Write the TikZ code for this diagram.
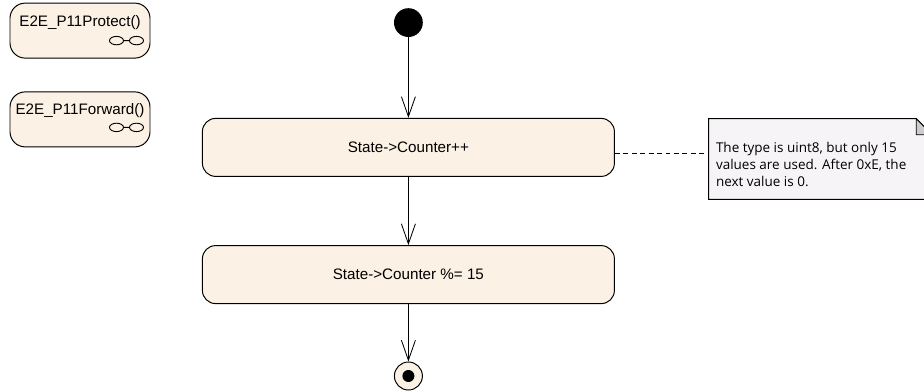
\documentclass[tikz,border=0pt]{standalone}
\usepackage{fontspec}
\setmainfont{Liberation Sans}
\newfontfamily\notefont{Open Sans}
\usepackage{xcolor}
\usetikzlibrary{positioning,arrows.meta,calc}
\definecolor{actfill}{RGB}{251,241,228}
\definecolor{notefill}{RGB}{247,244,247}
\definecolor{foldgray}{RGB}{204,204,208}
\newcommand{\callsym}[1]{%
  \draw[line width=0.65pt] ($(#1)+(-0.25,0)$) ellipse (0.175 and 0.105)
    ($(#1)+(0.25,0)$) ellipse (0.175 and 0.105)
    ($(#1)+(-0.075,0)$) -- ($(#1)+(0.075,0)$);}

\begin{document}
\begin{tikzpicture}[
  act/.style={draw, rounded corners=3.3mm, fill=actfill, line width=0.7pt,
              minimum width=10.3cm, minimum height=1.45cm,
              font=\fontsize{10.8}{13}\selectfont, inner sep=0pt},
  callact/.style={draw, rounded corners=3.8mm, fill=actfill, line width=0.7pt,
                  minimum width=3.5cm, minimum height=1.375cm, inner sep=0pt},
  callname/.style={font=\fontsize{10.8}{13}\selectfont, inner sep=0pt},
  flow/.style={-{Straight Barb[length=5mm, width=3.5mm]}, line width=0.6pt},
  notetxt/.style={font=\notefont\fontsize{9.6}{12}\selectfont, align=left,
                  anchor=north west, inner sep=0pt},
]
\useasboundingbox (0,0) rectangle (23.1,9.775);

% called activities
\node[callact] (protect) at (2.0,9.01) {};
\node[callname] (protectname) at ([yshift=-5mm]protect.north) {E2E\_P11Protect()};
\coordinate (protectsym) at ([xshift=-6mm,yshift=4.5mm]protect.south east);
\callsym{protectsym}
\node[callact] (forward) at (2.0,6.79) {};
\node[callname] (forwardname) at ([yshift=-4.8mm]forward.north) {E2E\_P11Forward()};
\coordinate (forwardsym) at ([xshift=-6mm,yshift=5mm]forward.south east);
\callsym{forwardsym}

% flow
\node[circle, fill=black, minimum size=7.2mm, inner sep=0pt] (start) at (10.21,9.21) {};
\node[act] (inc) at (10.21,6.09) {State->Counter++};
\node[act] (wrap) at (10.21,2.91) {State->Counter \%= 15};
\node[circle, draw, line width=0.7pt, fill=actfill, minimum size=7mm, inner sep=0pt] (final) at (10.21,0.375) {};
\node[circle, fill=black, minimum size=3mm, inner sep=0pt] (finaldot) at (final) {};
\draw[flow] (start) -- (inc);
\draw[flow] (inc) -- (wrap);
\draw[flow] (wrap) -- (final);

% note
\node[minimum width=5.575cm, minimum height=2cm, inner sep=0pt] (note) at (20.5125,5.8) {};
\draw[fill=notefill, line width=0.7pt] (note.south west) -- (note.north west)
  -- ([xshift=-4mm]note.north east) -- ([yshift=-4mm]note.north east)
  -- (note.south east) -- cycle;
\draw[fill=foldgray, line width=0.6pt] ([xshift=-4mm]note.north east)
  -- ([xshift=-4mm,yshift=-4mm]note.north east) -- ([yshift=-4mm]note.north east) -- cycle;
\node[notetxt] (notetext) at ([xshift=1.75mm,yshift=-5.9mm]note.north west)
  {The type is uint8, but only 15\\values are used. After 0xE, the\\next value is 0.};
\draw[line width=0.6pt, dash pattern=on 3.5pt off 2.5pt]
  ([yshift=-1.6mm]inc.east) -- ([yshift=-1.6mm]inc.east -| note.west);
\end{tikzpicture}
\end{document}
